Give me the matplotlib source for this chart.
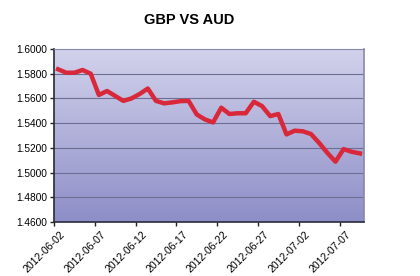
import numpy as np
import matplotlib
matplotlib.use("Agg")
import matplotlib.pyplot as plt
import matplotlib.transforms as mtransforms
from matplotlib.colors import LinearSegmentedColormap

plt.rcParams['font.family'] = ['Liberation Sans', 'DejaVu Sans']

# ── données ──
start_date = np.datetime64('2012-06-02')
gbp_aud = [1.5836, 1.5808, 1.5808, 1.5830, 1.5800, 1.5628, 1.5660, 1.5620,
           1.5580, 1.5600, 1.5636, 1.5680, 1.5580, 1.5560, 1.5568, 1.5578,
           1.5580, 1.5470, 1.5430, 1.5406, 1.5525, 1.5474, 1.5480, 1.5480,
           1.5573, 1.5538, 1.5457, 1.5474, 1.5309, 1.5339, 1.5334, 1.5312,
           1.5240, 1.5160, 1.5088, 1.5190, 1.5168, 1.5155]
tick_days = [0, 5, 10, 15, 20, 25, 30, 35]
y_ticks = [1.46, 1.48, 1.50, 1.52, 1.54, 1.56, 1.58, 1.60]

days = np.arange(len(gbp_aud)) + 0.5   # point au milieu de chaque jour
tick_labels = [str(start_date + np.timedelta64(d, 'D')) for d in tick_days]

fig = plt.figure(figsize=(4.2, 2.76), dpi=100)
ax = fig.add_axes([54 / 420, 1 - 222 / 276, 310 / 420, 173 / 276])

# fond dégradé lavande
grad = LinearSegmentedColormap.from_list('bg', ['#8e8ec8', '#d2d2ec'])
ax.imshow(np.linspace(0, 1, 256).reshape(-1, 1), cmap=grad, origin='lower',
          extent=[0, len(gbp_aud), 1.46, 1.60], aspect='auto', zorder=0)

for y in y_ticks[1:-1]:
    ax.axhline(y, color='#6e6e92', linewidth=0.8, zorder=1)

ax.plot(days, gbp_aud, color='#d8283a', linewidth=3.2, solid_joinstyle='round',
        zorder=3)

ax.set_xlim(0, len(gbp_aud))
ax.set_ylim(1.46, 1.60)
ax.set_yticks(y_ticks)
ax.set_yticklabels([f'{v:.4f}' for v in y_ticks], fontsize=7.3)
ax.set_xticks(tick_days)
ax.set_xticklabels(tick_labels, rotation=45, ha='right', rotation_mode='anchor',
                   fontsize=7.6)
ax.tick_params(axis='both', length=3, width=1, color='#222222', pad=2)

# décalage des étiquettes de dates vers la droite (comme Excel)
shift = mtransforms.ScaledTranslation(6 / 100, 0, fig.dpi_scale_trans)
for lab in ax.get_xticklabels():
    lab.set_transform(lab.get_transform() + shift)

for s in ['left', 'bottom']:
    ax.spines[s].set_color('#2a2a3a')
    ax.spines[s].set_linewidth(1.2)
ax.spines['top'].set_color('#8888a8')
ax.spines['right'].set_color('#8888a8')
ax.spines['right'].set_linewidth(1.2)

fig.text(189 / 420, 1 - 20 / 276, 'GBP VS AUD', ha='center', va='center',
         fontsize=10.5, fontweight='bold')

fig.savefig('out.png', dpi=100)
